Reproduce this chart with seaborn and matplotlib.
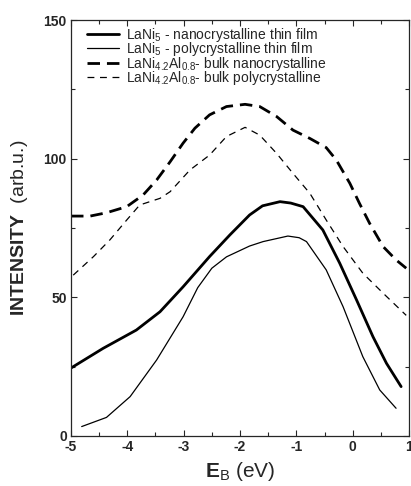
import pandas as pd
import numpy as np
import matplotlib
matplotlib.use('Agg')
import matplotlib.pyplot as plt
import seaborn as sns
from matplotlib.ticker import MultipleLocator

# binding energy (eV) / intensity pairs
nano_film_x = [-5.0, -4.43, -3.84, -3.42, -3.01, -2.54, -2.18, -1.83, -1.6, -1.29, -1.1,
               -0.88, -0.53, -0.23, 0.07, 0.36, 0.6, 0.86]
nano_film_y = [24.5, 31.6, 38.2, 44.8, 53.8, 64.7, 72.5, 79.7, 83.0, 84.5, 84.0,
               82.7, 74.3, 62.3, 49.0, 35.8, 26.2, 17.8]

poly_film_x = [-4.81, -4.37, -3.95, -3.48, -3.01, -2.75, -2.5, -2.24, -1.83, -1.59, -1.15, -0.95,
               -0.82, -0.47, -0.17, 0.18, 0.48, 0.77]
poly_film_y = [3.4, 6.7, 14.2, 27.4, 43.0, 53.5, 60.5, 64.6, 68.5, 70.1, 72.1, 71.5,
               70.1, 59.9, 46.6, 28.6, 16.6, 10.0]

nano_bulk_x = [-5.0, -4.66, -4.37, -4.01, -3.72, -3.48, -3.24, -3.01, -2.8, -2.54, -2.24,
               -1.91, -1.65, -1.35, -1.06, -0.76, -0.47, -0.29, -0.05, 0.12, 0.3, 0.54,
               0.77, 0.95]
nano_bulk_y = [79.3, 79.3, 80.5, 82.7, 86.9, 92.3, 98.9, 105.6, 111.0, 115.8, 118.8,
               119.6, 118.8, 115.2, 110.3, 107.3, 104.0, 99.5, 91.1, 83.9, 76.7, 68.3,
               63.5, 60.5]

poly_bulk_x = [-4.96, -4.6, -4.31, -4.01, -3.78, -3.42, -3.24, -2.89, -2.54, -2.24, -1.91,
               -1.65, -1.35, -1.06, -0.76, -0.47, -0.17, 0.18, 0.54, 0.95]
poly_bulk_y = [58.0, 64.7, 70.7, 77.9, 83.3, 85.7, 88.1, 95.9, 101.3, 108.0, 111.3,
               108.5, 101.9, 94.7, 87.5, 77.9, 68.3, 58.7, 51.5, 43.5]

labels = [r'LaNi$_5$ - nanocrystalline thin film',
          r'LaNi$_5$ - polycrystalline thin film',
          r'LaNi$_{4.2}$Al$_{0.8}$- bulk nanocrystalline',
          r'LaNi$_{4.2}$Al$_{0.8}$- bulk polycrystalline']

sns.set_style('ticks')
plt.rcParams['font.family'] = ['Liberation Sans', 'DejaVu Sans']
plt.rcParams['mathtext.fontset'] = 'custom'
plt.rcParams['mathtext.rm'] = 'Liberation Sans'
plt.rcParams['mathtext.it'] = 'Liberation Sans:italic'
plt.rcParams['mathtext.bf'] = 'Liberation Sans:bold'
plt.rcParams['axes.unicode_minus'] = False

fig = plt.figure(figsize=(4.11, 4.86), dpi=100)
ax = fig.add_axes([0.1727, 0.1029, 0.8225, 0.8559])

series = [
    (nano_film_x, nano_film_y, dict(lw=2.0, ls='-')),
    (poly_film_x, poly_film_y, dict(lw=0.9, ls='-')),
    (nano_bulk_x, nano_bulk_y, dict(lw=2.0, dashes=(4.5, 2.5))),
    (poly_bulk_x, poly_bulk_y, dict(lw=0.9, dashes=(5.5, 4.5))),
]
for (xs, ys, style), lab in zip(series, labels):
    sns.lineplot(x=xs, y=ys, ax=ax, color='black', label=lab, sort=False, **style)

ax.set_xlim(-5, 1)
ax.set_ylim(0, 150)
ax.xaxis.set_major_locator(MultipleLocator(1))
ax.xaxis.set_minor_locator(MultipleLocator(0.5))
ax.yaxis.set_major_locator(MultipleLocator(50))
ax.yaxis.set_minor_locator(MultipleLocator(25))
ax.tick_params(which='both', direction='in', top=True, right=True, width=0.8)
ax.tick_params(which='major', length=4, labelsize=10)
ax.tick_params(axis='x', which='major', pad=3)
ax.tick_params(axis='y', which='major', pad=3)
ax.tick_params(which='minor', length=3)
for lbl in ax.get_xticklabels() + ax.get_yticklabels():
    lbl.set_fontweight('bold')
for sp in ax.spines.values():
    sp.set_linewidth(0.9)

ax.set_xlabel(r'$\mathbf{E}_{\mathrm{B}}$ (eV)', fontsize=15, labelpad=4)
ax.set_ylabel(r'$\mathbf{INTENSITY}$  (arb.u.)', fontsize=14, labelpad=10)

leg = ax.legend(loc='upper left', frameon=False, fontsize=10, handlelength=2.3,
                handletextpad=0.5, labelspacing=-0.25, borderaxespad=0.0,
                bbox_to_anchor=(0.03, 1.0))

fig.savefig('out.png', dpi=100)
plt.close(fig)
